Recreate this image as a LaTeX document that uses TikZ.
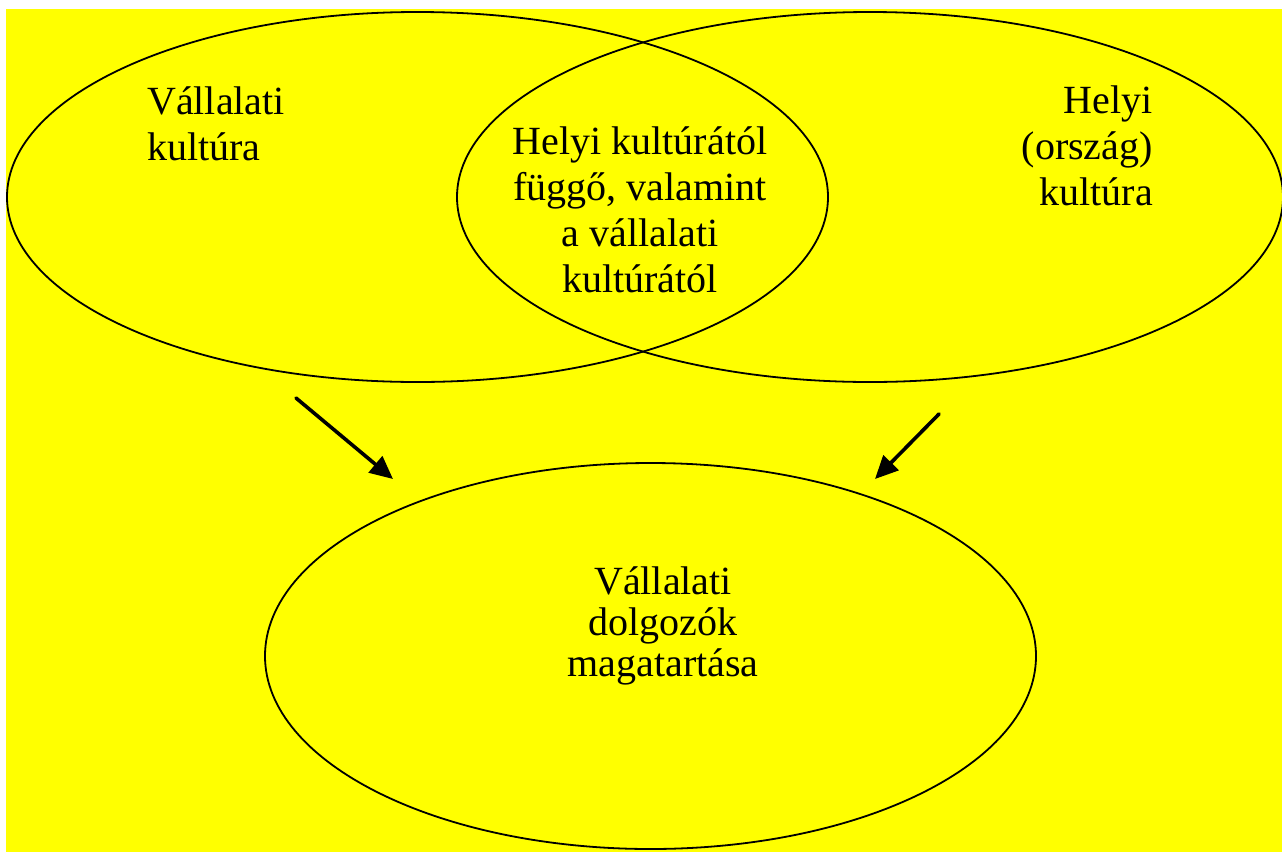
\documentclass[tikz,border=0pt]{standalone}
\usepackage{fontspec}
\setmainfont{Liberation Serif}
\usetikzlibrary{shapes.geometric,arrows.meta}
\definecolor{bgyellow}{RGB}{255,255,0}
\tikzset{
  oval/.style={ellipse, draw=black, line width=1.8pt, inner sep=0pt},
  label text/.style={inner sep=0pt, font=\fontsize{40}{46}\selectfont},
  influence/.style={line width=3.6pt, line cap=round,
    -{Triangle[length=23pt,width=21pt]}}
}
\begin{document}
\begin{tikzpicture}[x=1pt,y=-1pt]
  % page frame and yellow panel
  \useasboundingbox (0,0) rectangle (1282,852);
  \fill[bgyellow] (6,9) rectangle (1282,852);

  % the two overlapping cultures and the resulting behaviour
  \node[oval, minimum width=821pt, minimum height=370pt] (corp) at (417.5,197) {};
  \node[oval, minimum width=826pt, minimum height=370pt] (local) at (870,197) {};
  \node[oval, minimum width=771pt, minimum height=386pt] (behav) at (650.5,656) {};

  % labels
  \node[label text, anchor=north west, align=left] (corpT) at (147,86)
    {Vállalati\\kultúra};
  \node[label text, anchor=north east, align=right] (localT) at (1153,86)
    {Helyi\\(ország)\\kultúra};
  \node[label text, anchor=north, align=center] (bothT) at (640,126)
    {Helyi kultúrától\\függő, valamint\\a vállalati\\kultúrától};
  \node[label text, anchor=north, align=center,
        font=\fontsize{40}{41}\selectfont] (behavT) at (663,566)
    {Vállalati\\dolgozók\\magatartása};

  % influence arrows
  \coordinate (a1s) at (296,398);
  \coordinate (a1e) at (393,479);
  \coordinate (a2s) at (939,414);
  \coordinate (a2e) at (875,479);
  \draw[influence] (a1s) -- (a1e);
  \draw[influence] (a2s) -- (a2e);
\end{tikzpicture}
\end{document}
